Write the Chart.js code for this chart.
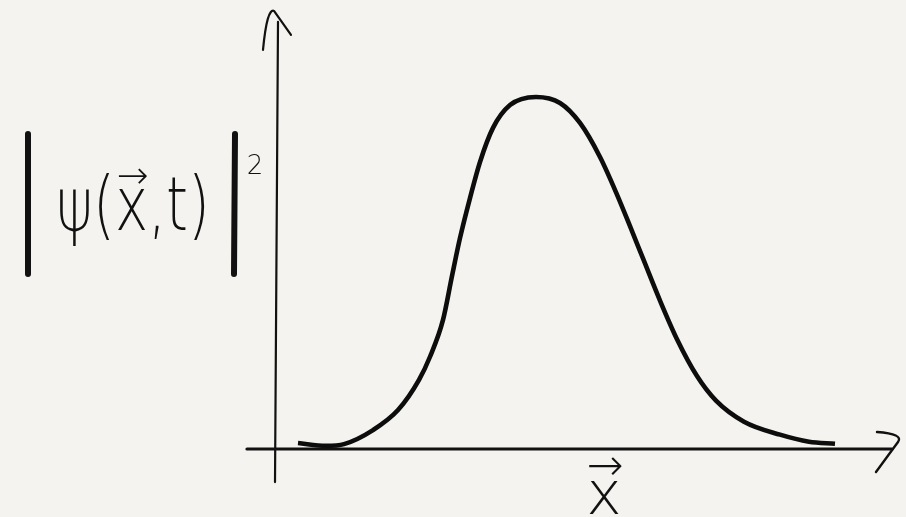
<!DOCTYPE html>
<html>
<head>
<meta charset="utf-8">
<script src="https://cdn.jsdelivr.net/npm/chart.js@4.4.0/dist/chart.umd.min.js"></script>
<style>
  html, body { margin: 0; padding: 0; background: #f4f3ef; }
  #wrap { width: 906px; height: 517px; }
</style>
</head>
<body>
<div id="wrap"><canvas id="myChart"></canvas></div>
<script>
// position x (arbitrary units) and |psi|^2
const xs = [0.46, 1.02, 1.38, 1.96, 2.46, 2.88, 3.10, 3.36, 3.54, 3.70, 3.90, 4.10, 4.36, 4.70, 5.22,
            5.70, 6.10, 6.50, 6.84, 7.10, 7.36, 7.70, 8.04, 8.44, 8.82, 9.38, 10.10, 10.68, 11.20];
const ps = [0.014, 0.006, 0.011, 0.051, 0.108, 0.194, 0.26, 0.365, 0.49, 0.598, 0.712, 0.815, 0.912, 0.977, 1.0,
            0.983, 0.926, 0.829, 0.722, 0.632, 0.54, 0.42, 0.31, 0.205, 0.135, 0.075, 0.038, 0.018, 0.012];

// axis extents, same units
const xAxisRange = [-0.56, 12.34];
const yAxisRange = [-0.097, 1.214];

// |ψ(x⃗,t)|²  split into pieces so the vector arrow can sit on the x
const yLabelHead = 'ψ(';
const yLabelVar = 'x';
const yLabelTail = ',t)';
const yLabelPow = '2';
const xLabel = 'x';
const vecArrow = '→';

const sketch = {
  id: 'sketch',
  beforeDraw(chart) {
    const c = chart.ctx;
    c.save();
    c.fillStyle = '#f4f3ef';
    c.fillRect(0, 0, chart.width, chart.height);
    c.restore();
  },
  afterDatasetsDraw(chart) {
    const c = chart.ctx;
    const sx = chart.scales.x, sy = chart.scales.y;
    const X = v => sx.getPixelForValue(v), Y = v => sy.getPixelForValue(v);
    c.save();
    c.strokeStyle = '#111';
    c.lineCap = 'round';
    c.lineJoin = 'round';

    // x axis
    c.lineWidth = 3.2;
    c.beginPath();
    c.moveTo(X(xAxisRange[0]), Y(0) + 1);
    c.lineTo(X(xAxisRange[1]), Y(0) + 1);
    c.stroke();
    // x arrow head
    c.lineWidth = 2.4;
    const ax = X(xAxisRange[1]), ay = Y(0);
    c.beginPath();
    c.moveTo(ax - 15, ay - 16);
    c.quadraticCurveTo(ax + 12, ay - 14, ax + 6, ay - 6);
    c.lineTo(ax - 16, ay + 24);
    c.stroke();

    // y axis
    c.lineWidth = 2.2;
    c.beginPath();
    c.moveTo(X(0), Y(yAxisRange[0]));
    c.lineTo(X(0) + 3, Y(yAxisRange[1]));
    c.stroke();
    // y arrow head
    const tx = X(0), ty = Y(yAxisRange[1]);
    c.beginPath();
    c.moveTo(tx - 12, ty + 28);
    c.quadraticCurveTo(tx - 8, ty - 14, tx - 1, ty - 11);
    c.lineTo(tx + 16, ty + 13);
    c.stroke();

    // bars of the modulus
    c.lineWidth = 6;
    c.beginPath();
    c.moveTo(28, 134); c.lineTo(28, 274);
    c.moveTo(235, 134); c.lineTo(234, 274);
    c.stroke();

    // y label text
    c.fillStyle = '#111';
    c.textBaseline = 'alphabetic';
    c.textAlign = 'left';
    c.font = '200 66px "DejaVu Sans"';
    const wHead = c.measureText(yLabelHead).width;
    const wVar = c.measureText(yLabelVar).width;
    const wAll = c.measureText(yLabelHead + yLabelVar + yLabelTail).width;
    const k = 154 / wAll;
    c.save();
    c.translate(56, 230);
    c.scale(k, 1.12);
    c.fillText(yLabelHead + yLabelVar + yLabelTail, 0, 0);
    c.restore();
    // arrow over the x
    c.font = '200 38px "DejaVu Sans"';
    c.textAlign = 'center';
    c.fillText(vecArrow, 56 + (wHead + wVar / 2) * k + 1, 188);
    // power
    c.font = '300 26px "DejaVu Sans"';
    c.fillText(yLabelPow, 255, 174);

    // x label under the axis
    c.font = '200 60px "DejaVu Sans"';
    c.fillText(xLabel, 604, 514);
    c.font = '200 44px "DejaVu Sans"';
    c.fillText(vecArrow, 605, 480);
    c.restore();
  }
};

const ctx = document.getElementById('myChart');
const myChart = new Chart(ctx, {
  type: 'scatter',
  data: {
    datasets: [{
      data: xs.map((x, i) => ({ x: x, y: ps[i] })),
      showLine: true,
      borderColor: '#0d0d0d',
      borderWidth: 4.6,
      pointRadius: 0,
      cubicInterpolationMode: 'monotone',
      fill: false
    }]
  },
  options: {
    responsive: true,
    maintainAspectRatio: false,
    animation: false,
    layout: { padding: 0 },
    plugins: { legend: { display: false }, tooltip: { enabled: false } },
    scales: {
      x: { type: 'linear', display: false, min: -5.5, max: 12.62 },
      y: { type: 'linear', display: false, min: -0.1966, max: 1.2764 }
    }
  },
  plugins: [sketch]
});
</script>
</body>
</html>
